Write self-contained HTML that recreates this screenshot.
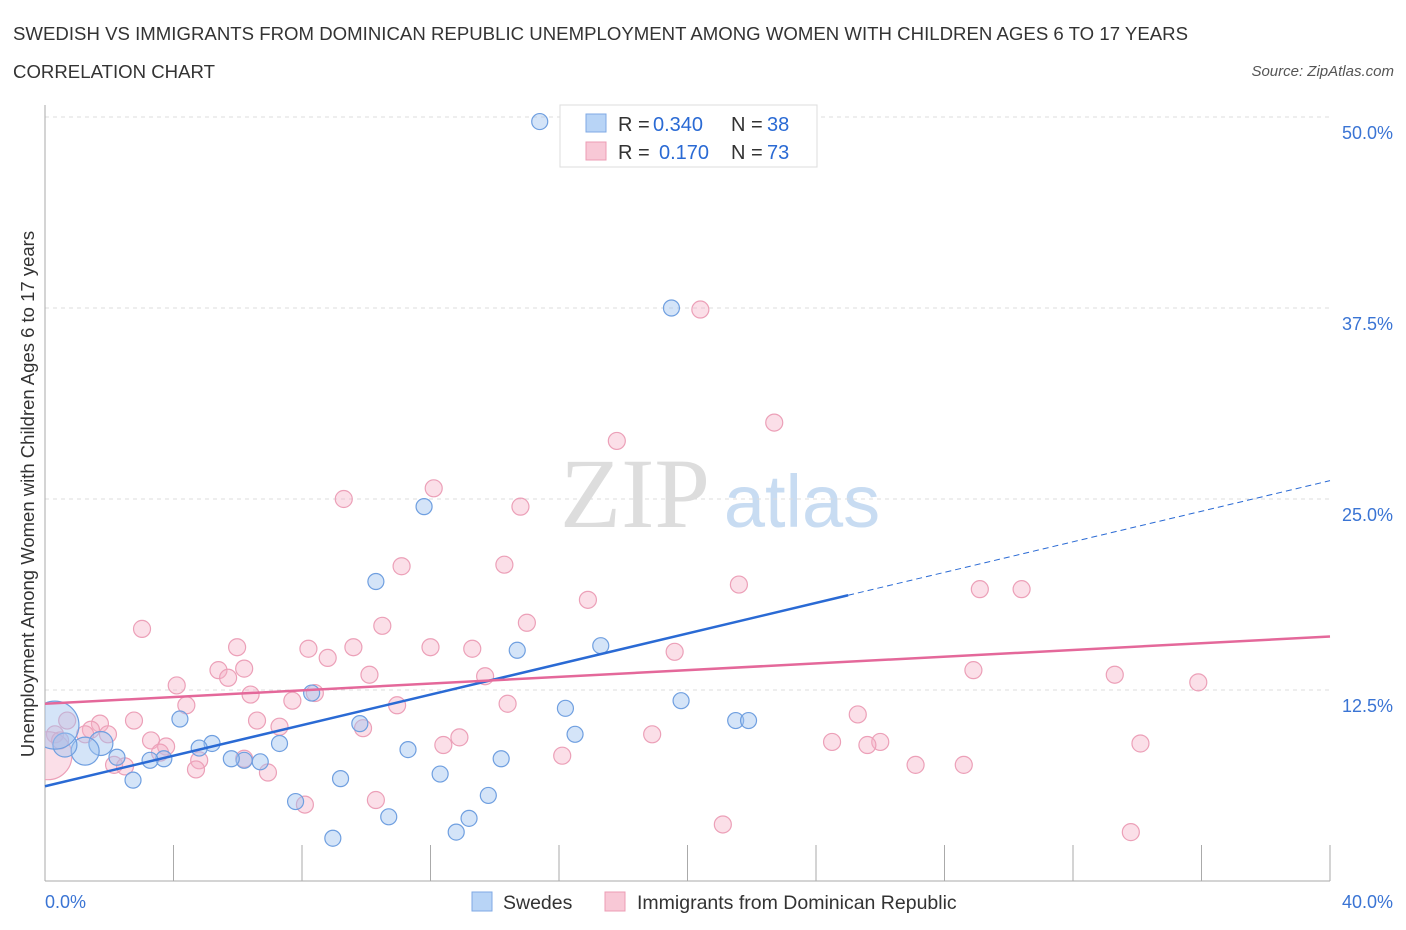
<!DOCTYPE html>
<html><head><meta charset="utf-8"><style>
body{margin:0;background:#fff;font-family:"Liberation Sans",sans-serif}
svg{display:block}
</style></head><body>
<svg id="chart" width="1406" height="930" viewBox="0 0 1406 930" xmlns="http://www.w3.org/2000/svg">
<text x="13" y="40" font-size="18.6" fill="#333" textLength="1175">SWEDISH VS IMMIGRANTS FROM DOMINICAN REPUBLIC UNEMPLOYMENT AMONG WOMEN WITH CHILDREN AGES 6 TO 17 YEARS</text>
<text x="13" y="78" font-size="18.6" fill="#333" textLength="202">CORRELATION CHART</text>
<text x="1394" y="76" font-size="15" fill="#555" font-style="italic" text-anchor="end">Source: ZipAtlas.com</text>
<g>
<text x="635" y="527" font-size="100" font-family="Liberation Serif,serif" fill="#ddd" text-anchor="middle">ZIP</text>
<text x="802" y="527" font-size="74" fill="#c8dcf2" text-anchor="middle">atlas</text>
</g>
<g id="grid"></g>
<g id="axes"></g>
<g id="pts"></g>
<g id="lines"></g>
<g font-size="20" fill="#333">
<rect x="560" y="105" width="257" height="62" fill="#fff" stroke="#ddd"/>
<rect x="586" y="114" width="20" height="18" fill="#b8d4f6" stroke="#7fa9e4"/>
<rect x="586" y="142" width="20" height="18" fill="#f8c8d6" stroke="#ec9cb4"/>
<text x="618" y="131">R =</text><text x="653" y="131" fill="#2a6ad4">0.340</text>
<text x="731" y="131">N =</text><text x="767" y="131" fill="#2a6ad4">38</text>
<text x="618" y="159">R =</text><text x="659" y="159" fill="#2a6ad4">0.170</text>
<text x="731" y="159">N =</text><text x="767" y="159" fill="#2a6ad4">73</text>
</g>
<g>
<rect x="472" y="892" width="20" height="19" fill="#b8d4f6" stroke="#7fa9e4"/>
<text x="503" y="909" font-size="19.5" fill="#333">Swedes</text>
<rect x="605" y="892" width="20" height="19" fill="#f8c8d6" stroke="#ec9cb4"/>
<text x="637" y="909" font-size="19.5" fill="#333">Immigrants from Dominican Republic</text>
</g>
<text transform="translate(34,494) rotate(-90)" font-size="18.5" fill="#333" text-anchor="middle">Unemployment Among Women with Children Ages 6 to 17 years</text>
</svg>
<script>
const yTicks=[12.5,25,37.5,50];
const yTickLabels=["12.5%","25.0%","37.5%","50.0%"];
const xTickLabels=["0.0%","40.0%"];
const blueX=[15.4,19.5,11.8,10.3,17.3,14.7,19.8,16.2,21.5,21.9,16.5,11.3,14.2,12.3,13.8,13.2,12.8,10.7,9.2,8.96,7.8,9.8,8.3,7.3,6.7,6.2,5.8,5.2,4.8,4.2,3.7,3.27,2.74,2.24,1.74,1.25,0.62,0.31];
const blueY=[49.7,37.5,24.5,19.6,15.4,15.1,11.8,11.3,10.5,10.5,9.6,8.6,8.0,7.0,5.6,4.1,3.2,4.2,6.7,2.8,5.2,10.3,12.3,9.0,7.8,7.9,8.0,9.0,8.7,10.6,8.0,7.9,6.6,8.1,9.0,8.5,8.9,10.2];
const blueR=[8,8,8,8,8,8,8,8,8,8,8,8,8,8,8,8,8,8,8,8,8,8,8,8,8,8,8,8,8,8,8,8,8,8,12,14,12,24];
const pinkX=[20.4,22.7,17.8,12.1,9.3,14.8,14.3,11.1,21.6,29.1,30.4,16.9,15.0,10.5,3.02,5.98,8.2,9.6,12.0,13.3,19.6,8.8,5.4,6.2,5.7,10.1,13.7,28.9,33.3,35.9,4.1,6.4,8.4,7.7,4.4,10.96,14.4,25.3,6.6,2.77,0.69,1.71,1.43,1.96,7.3,9.9,18.9,12.9,3.3,3.77,24.5,26.0,25.6,34.1,12.4,3.58,4.8,2.15,2.49,6.2,16.1,6.94,27.1,28.6,4.7,10.3,8.09,21.1,33.8,0.31,0.09,0.47,1.25];
const pinkY=[37.4,30.0,28.8,25.7,25.0,24.5,20.7,20.6,19.4,19.1,19.1,18.4,16.9,16.7,16.5,15.3,15.2,15.3,15.3,15.2,15.0,14.6,13.8,13.9,13.3,13.5,13.4,13.8,13.5,13.0,12.8,12.2,12.3,11.8,11.5,11.5,11.6,10.9,10.5,10.5,10.5,10.3,9.9,9.6,10.1,10.0,9.6,9.4,9.2,8.8,9.1,9.1,8.9,9.0,8.9,8.4,7.9,7.6,7.5,8.0,8.2,7.1,7.6,7.6,7.3,5.3,5.0,3.7,3.2,9.6,8.2,9.2,9.6];
const blueFit=[6.2,26.2];
const pinkFit=[11.6,16.0];
const NS="http://www.w3.org/2000/svg";
const X0=45,X1=1330,Y0=881,Y50=117;
const xs=v=>X0+v/40*(X1-X0);
const ys=v=>Y0-v/50*(Y0-Y50);
function mk(t,a,p){const e=document.createElementNS(NS,t);for(const k in a)e.setAttribute(k,a[k]);p.appendChild(e);return e;}
const grid=document.getElementById('grid'),axes=document.getElementById('axes');
yTicks.forEach((v,i)=>{
 const l=mk('line',{x1:X0,x2:X1,y1:ys(v),y2:ys(v),stroke:'#ddd','stroke-dasharray':'4,4'},grid);
 
 
 const t=mk('text',{x:1393,y:ys(v)+22,'font-size':18,fill:'#3a74d4','text-anchor':'end'},axes);
 t.textContent=yTickLabels[i];
 
 
});
const ya=mk('line',{x1:X0,x2:X0,y1:105,y2:Y0,stroke:'#aaa'},axes);


const xa=mk('line',{x1:X0,x2:X1,y1:Y0,y2:Y0,stroke:'#aaa'},axes);


for(let i=0;i<=10;i++){const tk=mk('line',{x1:xs(i*4),x2:xs(i*4),y1:845,y2:Y0,stroke:'#aaa'},axes);
 
 }
[[0,X0,'start'],[40,1393,'end']].forEach((d,i)=>{const t=mk('text',{x:d[1],y:908,'font-size':18,fill:'#3a74d4','text-anchor':d[2]},axes);t.textContent=xTickLabels[i];
 
 });
mk('clipPath',{id:'cp'},document.getElementById('chart'));
mk('rect',{x:X0,y:100,width:X1-X0+20,height:Y0-100},document.getElementById('cp'));
const pts=document.getElementById('pts');pts.setAttribute('clip-path','url(#cp)');
pinkX.forEach((v,i)=>{const c=mk('circle',{cx:xs(v),cy:ys(pinkY[i]),r:8.5,fill:'rgba(245,175,198,0.4)',stroke:'#eca0b8','stroke-width':1.2},pts);
 if(i==70)c.setAttribute('r',24);
 
 });
blueX.forEach((v,i)=>{const c=mk('circle',{cx:xs(v),cy:ys(blueY[i]),r:blueR[i],fill:'rgba(160,196,240,0.45)',stroke:'#6f9fe0','stroke-width':1.2},pts);
 
 });
const lines=document.getElementById('lines');
const bm=25;const bmy=blueFit[0]+(blueFit[1]-blueFit[0])*bm/40;
const b1=mk('line',{x1:xs(0),y1:ys(blueFit[0]),x2:xs(bm),y2:ys(bmy),stroke:'#2a6ad4','stroke-width':2.5},lines);


const b2=mk('line',{x1:xs(bm),y1:ys(bmy),x2:xs(40),y2:ys(blueFit[1]),stroke:'#2a6ad4','stroke-width':1,'stroke-dasharray':'6,4'},lines);


const p1=mk('line',{x1:xs(0),y1:ys(pinkFit[0]),x2:xs(40),y2:ys(pinkFit[1]),stroke:'#e4689a','stroke-width':2.5},lines);


</script>
</body></html>
